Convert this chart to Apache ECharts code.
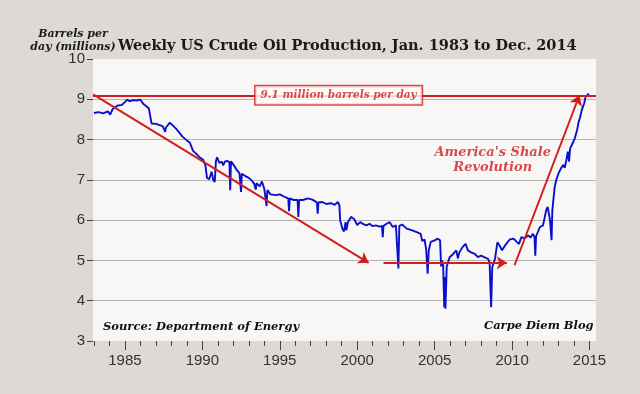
<!DOCTYPE html>
<html>
<head>
<meta charset="utf-8">
<script src="https://cdn.jsdelivr.net/npm/echarts@6/dist/echarts.min.js"></script>
<style>
html,body{margin:0;padding:0;background:#dcd9d6;}
#chart{width:640px;height:394px;}
</style>
</head>
<body>
<div id="chart"></div>
<script>
// ---- data (decimal year, million barrels per day) ----
var years = [
1983.00,1983.3,1983.6,1983.9,1984.05,1984.2,1984.5,1984.8,1985.0,1985.15,1985.3,1985.5,1985.75,1986.0,1986.1,1986.2,1986.4,1986.55,1986.65,1986.72,
1987.0,1987.3,1987.45,1987.6,1987.65,1987.9,1988.0,1988.3,1988.5,1988.7,1989.0,1989.2,1989.4,1989.6,1989.8,1990.05,1990.2,1990.3,1990.45,1990.55,
1990.6,1990.7,1990.8,1990.88,1990.95,1991.1,1991.25,1991.35,1991.45,1991.6,1991.75,1991.8,1991.85,1992.0,1992.2,1992.4,1992.5,1992.55,1992.75,1993.0,
1993.2,1993.35,1993.45,1993.5,1993.7,1993.85,1994.0,1994.1,1994.15,1994.2,1994.4,1994.75,1995.0,1995.3,1995.55,1995.6,1995.65,1995.9,1996.15,1996.2,
1996.25,1996.5,1996.8,1997.1,1997.4,1997.45,1997.5,1997.75,1998.0,1998.3,1998.55,1998.75,1998.85,1998.9,1999.05,1999.15,1999.25,1999.3,1999.4,1999.6,
1999.8,2000.0,2000.2,2000.4,2000.6,2000.8,2001.0,2001.2,2001.45,2001.6,2001.65,2001.7,2001.9,2002.1,2002.3,2002.5,2002.62,2002.66,2002.72,2002.9,
2003.2,2003.5,2003.85,2004.1,2004.2,2004.35,2004.45,2004.55,2004.62,2004.75,2005.0,2005.2,2005.35,2005.42,2005.47,2005.55,2005.62,2005.66,2005.7,2005.78,
2005.97,2006.2,2006.4,2006.5,2006.6,2006.8,2007.0,2007.15,2007.35,2007.6,2007.8,2008.0,2008.2,2008.45,2008.55,2008.6,2008.65,2008.72,2008.9,2009.05,
2009.2,2009.35,2009.6,2009.85,2010.1,2010.3,2010.45,2010.6,2010.8,2011.05,2011.2,2011.35,2011.45,2011.5,2011.55,2011.8,2012.0,2012.2,2012.3,2012.45,
2012.55,2012.6,2012.75,2012.85,2013.0,2013.15,2013.3,2013.4,2013.5,2013.6,2013.68,2013.75,2013.95,2014.05,2014.2,2014.3,2014.4,2014.5,2014.65,2014.75,
2014.9,2014.96
];
var production = [
8.66,8.68,8.65,8.70,8.62,8.75,8.84,8.86,8.93,8.99,8.95,8.98,8.97,8.99,8.96,8.88,8.82,8.77,8.75,8.40,
8.39,8.35,8.33,8.19,8.30,8.42,8.40,8.27,8.18,8.08,7.98,7.92,7.72,7.65,7.57,7.50,7.36,7.05,7.02,7.05,
7.20,7.00,6.95,7.47,7.56,7.42,7.45,7.36,7.45,7.47,7.44,6.74,7.46,7.38,7.26,7.16,6.70,7.15,7.10,7.05,
6.98,6.90,6.76,6.92,6.84,6.96,6.78,6.74,6.35,6.75,6.64,6.62,6.64,6.58,6.54,6.22,6.54,6.50,6.50,6.08,
6.50,6.50,6.54,6.51,6.44,6.16,6.44,6.45,6.40,6.42,6.38,6.45,6.37,6.00,5.78,5.72,5.95,5.75,5.95,6.08,
6.03,5.88,5.95,5.90,5.87,5.91,5.85,5.87,5.84,5.86,5.58,5.86,5.91,5.95,5.83,5.87,5.85,4.80,5.86,5.89,
5.79,5.75,5.70,5.66,5.48,5.52,5.28,4.67,5.25,5.46,5.50,5.54,5.50,4.85,5.00,4.90,3.84,4.59,3.80,4.85,
5.08,5.16,5.25,5.05,5.20,5.33,5.41,5.25,5.20,5.16,5.08,5.12,5.08,5.04,4.95,4.34,3.84,4.83,5.04,5.45,
5.37,5.25,5.40,5.52,5.54,5.46,5.41,5.58,5.55,5.62,5.57,5.66,5.58,5.12,5.60,5.83,5.87,6.24,6.33,6.00,
5.50,6.24,6.82,6.99,7.16,7.28,7.37,7.30,7.48,7.70,7.45,7.78,7.94,8.03,8.24,8.44,8.56,8.73,8.89,9.06,
9.12,9.14
];
var yTicks = [3,4,5,6,7,8,9,10];
var xLabelYears = [1985,1990,1995,2000,2005,2010,2015];
var xTickYears = [];
for (var y = 1983; y <= 2015; y++) xTickYears.push(y);

var refLevel = 9.1;
var refLabel = '9.1 million barrels per day';
var refLabelAt = [1998.8, 9.1];
var arrowDecline = [[1982.95, 9.12], [2000.74, 4.94]];
var arrowFlat = [[2001.7, 4.94], [2009.66, 4.94]];
var arrowShale = [[2010.16, 4.88], [2014.35, 9.1]];
var shaleText = "America's Shale\nRevolution";
var shaleTextAt = [2008.75, 7.48];

var titleText = 'Weekly US Crude Oil Production, Jan. 1983 to Dec. 2014';
var unitText = 'Barrels per\nday (millions)';
var sourceText = 'Source: Department of Energy';
var blogText = 'Carpe Diem Blog';

var RED = '#cf1e1e';
var BLUE = '#0a0fcc';
var SERIF = '"DejaVu Serif", "Liberation Serif", serif';
var SANS = '"Liberation Sans", Arial, sans-serif';

var lineData = years.map(function (yr, i) { return [yr, production[i]]; });

var chart = echarts.init(document.getElementById('chart'), null, {renderer: 'canvas'});
var xMin = 1982.94, xMax = 2015.42;

chart.setOption({
  backgroundColor: '#dcd9d6',
  animation: false,
  grid: {left: 93, right: 44, top: 59, bottom: 53, show: true, backgroundColor: '#f8f7f6', borderWidth: 0},
  xAxis: [
    {type: 'value', min: xMin, max: xMax,
     axisLine: {show: false},
     axisTick: {show: true, customValues: xTickYears, length: 5, lineStyle: {color: '#444', width: 1}},
     axisLabel: {show: false},
     splitLine: {show: false}},
    {type: 'value', min: xMin, max: xMax, position: 'bottom',
     axisLine: {show: false},
     axisTick: {show: true, customValues: xLabelYears, length: 9, lineStyle: {color: '#444', width: 1}},
     axisLabel: {show: true, customValues: xLabelYears, color: '#333', fontSize: 15, margin: 12,
                 fontFamily: SANS, formatter: function (v) { return String(Math.round(v)); }},
     splitLine: {show: false}}
  ],
  yAxis: {
    type: 'value', min: 3, max: 10, interval: 1,
    axisLine: {show: false},
    axisTick: {show: true, length: 6, lineStyle: {color: '#444', width: 1}},
    axisLabel: {color: '#333', fontSize: 15, margin: 8, fontFamily: SANS},
    splitLine: {show: true, lineStyle: {color: ['rgba(0,0,0,0)', '#b4b4b4', '#b4b4b4', '#b4b4b4', '#b4b4b4', '#b4b4b4', '#b4b4b4', 'rgba(0,0,0,0)'], width: 1}}
  },
  series: [
    {
      type: 'line', xAxisIndex: 0, data: lineData, showSymbol: false, symbol: 'none',
      lineStyle: {color: BLUE, width: 1.9}, z: 3
    },
    {
      type: 'line', xAxisIndex: 0, data: [], z: 4, silent: true,
      markLine: {
        silent: true, animation: false,
        lineStyle: {color: RED, width: 2, type: 'solid'},
        label: {show: false},
        symbol: 'none',
        data: [
          [{coord: [xMin, refLevel]}, {coord: [xMax, refLevel]}]
        ]
      }
    },
    {
      type: 'line', xAxisIndex: 0, data: [], z: 5, silent: true,
      markLine: {
        silent: true, animation: false,
        lineStyle: {color: RED, width: 2, type: 'solid'},
        itemStyle: {color: RED},
        label: {show: false},
        symbol: ['none', 'arrow'], symbolSize: 10,
        data: [
          [{coord: arrowDecline[0]}, {coord: arrowDecline[1]}],
          [{coord: arrowFlat[0]}, {coord: arrowFlat[1]}],
          [{coord: arrowShale[0]}, {coord: arrowShale[1]}]
        ]
      }
    },
    {
      type: 'scatter', xAxisIndex: 0, symbolSize: 0, z: 6, silent: true,
      data: [{value: refLabelAt, label: {formatter: refLabel}}],
      label: {show: true, position: 'inside', color: RED, fontFamily: SERIF, fontStyle: 'italic', fontWeight: 'bold',
              fontSize: 10.5, backgroundColor: '#fff', borderColor: RED, borderWidth: 1.5, padding: [4, 5, 3, 5]}
    },
    {
      type: 'scatter', xAxisIndex: 0, symbolSize: 0, z: 6, silent: true,
      data: [{value: shaleTextAt}],
      label: {show: true, position: 'inside', formatter: shaleText, color: RED, fontFamily: SERIF, fontStyle: 'italic',
              fontWeight: 'bold', fontSize: 13, lineHeight: 15, align: 'center'}
    }
  ],
  graphic: [
    {type: 'text', left: 118, top: 39, style: {text: titleText, fill: '#1a1a1a', font: 'bold 14.5px ' + SERIF}},
    {type: 'text', x: 73, y: 28, style: {text: unitText, fill: '#1a1a1a', font: 'italic bold 11px ' + SERIF, lineHeight: 13, align: 'center'}},
    {type: 'text', left: 103, top: 321, style: {text: sourceText, fill: '#111', font: 'italic bold 11.5px ' + SERIF}},
    {type: 'text', left: 484, top: 320, style: {text: blogText, fill: '#111', font: 'italic bold 11.5px ' + SERIF}}
  ]
});
</script>
</body>
</html>
